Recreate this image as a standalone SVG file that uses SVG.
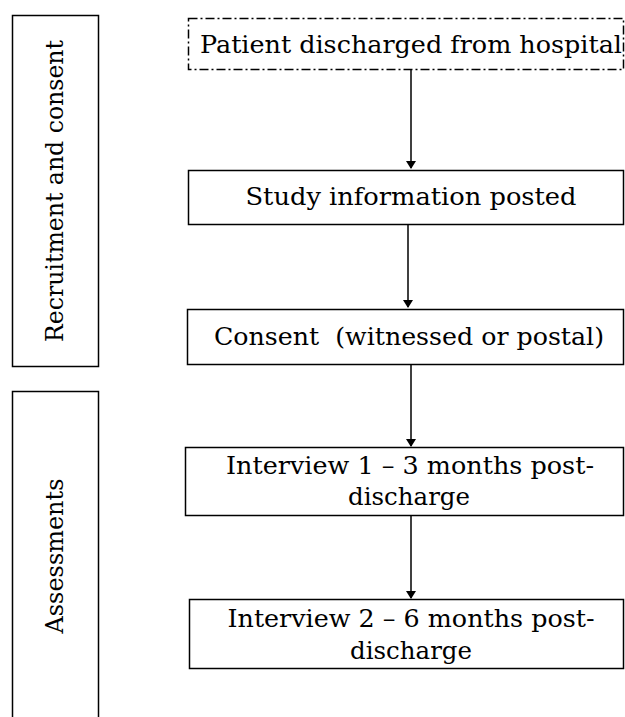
<svg xmlns="http://www.w3.org/2000/svg" width="625" height="717" viewBox="0 0 625 717">
<style>
.box{fill:#fff;stroke:#000;stroke-width:1.5}
.dash{stroke-dasharray:9 3 2 3}
.t{font-family:"DejaVu Serif","Liberation Serif",serif;font-size:24px;fill:#000;text-anchor:middle}
.c{stroke:#000;stroke-width:1.5;fill:none;marker-end:url(#ah)}
</style>
<defs>
<marker id="ah" markerWidth="8" markerHeight="10" refX="7" refY="5" orient="auto" markerUnits="userSpaceOnUse">
<path d="M0,0 L8,5 L0,10 Z" fill="#000"/>
</marker>
</defs>
<rect width="625" height="717" fill="#fff"/>
<g id="phase1">
<rect class="box" x="12.5" y="15.5" width="86" height="351"/>
<text class="t" transform="translate(63,191) rotate(-90)" textLength="302" lengthAdjust="spacingAndGlyphs">Recruitment and consent</text>
</g>
<g id="phase2">
<rect class="box" x="12.5" y="391.5" width="86" height="330"/>
<text class="t" transform="translate(63,556) rotate(-90)" textLength="155" lengthAdjust="spacingAndGlyphs">Assessments</text>
</g>
<g id="connectors">
<line class="c" x1="411" y1="70" x2="411" y2="168"/>
<line class="c" x1="408" y1="225" x2="408" y2="307"/>
<line class="c" x1="411" y1="365" x2="411" y2="446"/>
<line class="c" x1="411" y1="516" x2="411" y2="598"/>
</g>
<g id="n1">
<rect class="box dash" x="188.5" y="18.5" width="435" height="51"/>
<text class="t" x="411" y="53" textLength="422" lengthAdjust="spacingAndGlyphs">Patient discharged from hospital</text>
</g>
<g id="n2">
<rect class="box" x="188.5" y="170.5" width="435" height="54"/>
<text class="t" x="411" y="205" textLength="331" lengthAdjust="spacingAndGlyphs">Study information posted</text>
</g>
<g id="n3">
<rect class="box" x="187.5" y="309.5" width="436" height="55"/>
<text class="t" x="409" y="345" textLength="390" lengthAdjust="spacingAndGlyphs" xml:space="preserve">Consent  (witnessed or postal)</text>
</g>
<g id="n4">
<rect class="box" x="185.5" y="447.5" width="438" height="68"/>
<text class="t" x="410" y="474" textLength="368" lengthAdjust="spacingAndGlyphs">Interview 1 – 3 months post-</text>
<text class="t" x="409" y="505" textLength="122" lengthAdjust="spacingAndGlyphs">discharge</text>
</g>
<g id="n5">
<rect class="box" x="189.5" y="599.5" width="434" height="69"/>
<text class="t" x="411" y="627" textLength="367" lengthAdjust="spacingAndGlyphs">Interview 2 – 6 months post-</text>
<text class="t" x="411" y="659" textLength="122" lengthAdjust="spacingAndGlyphs">discharge</text>
</g>
</svg>
